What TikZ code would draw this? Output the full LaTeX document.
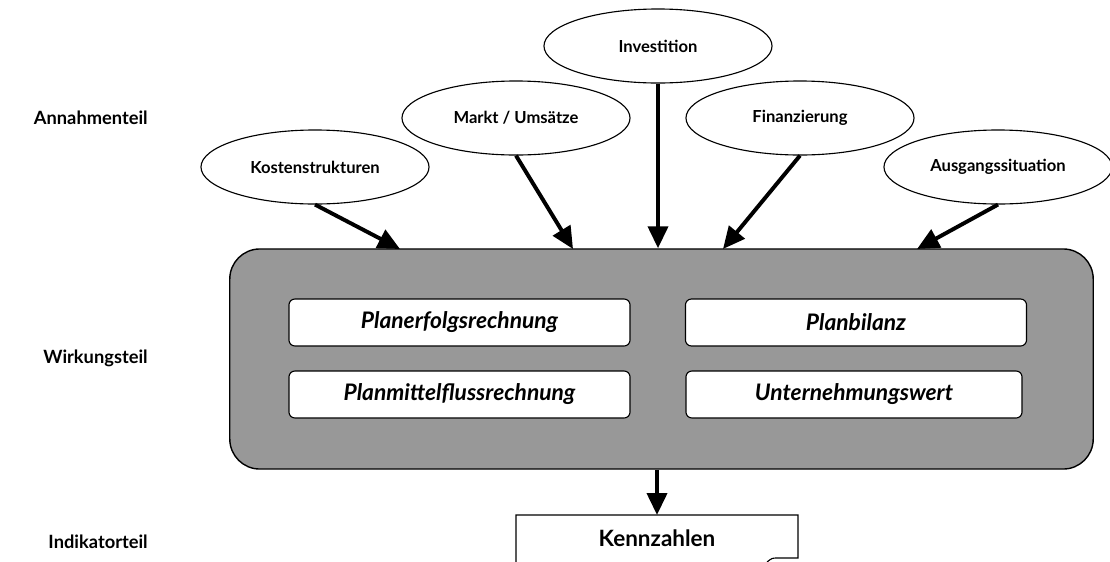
\documentclass[tikz,border=0pt]{standalone}
\usepackage{fontspec}
\setmainfont{Lato}
\usetikzlibrary{shapes.geometric,arrows.meta}
\definecolor{wirkgrau}{RGB}{152,152,152}
\tikzset{
	annahme/.style={draw, ellipse, line width=0.8pt, minimum width=5.7cm, minimum height=1.85cm, inner sep=0pt, font=\bfseries\fontsize{11.8}{14}\selectfont},
	teil/.style={anchor=east, inner sep=0pt, font=\bfseries\fontsize{13}{15}\selectfont},
	rechnung/.style={draw, fill=white, rounded corners=0.15cm, line width=0.8pt, minimum width=8.525cm, minimum height=1.175cm, inner sep=0pt, font=\bfseries\itshape\fontsize{16.2}{19}\selectfont},
	pfeil/.style={line width=2.8pt, -{Triangle[length=5.5mm, width=5mm]}},
}

\begin{document}
\begin{tikzpicture}[x=0.025cm, y=-0.025cm]
			%%%%% START %%%%%
			
			\useasboundingbox (0, 0) rectangle (1110, 561);
			\clip (0, 0) rectangle (1110, 561);
			
			\node[teil] (annahmenteil) at (148, 118) {Annahmenteil};
			\node[teil] (wirkungsteil) at (148, 358) {Wirkungsteil};
			\node[teil] (indikatorteil) at (148, 542) {Indikatorteil};
			
			\node[draw, fill=wirkgrau, line width=1pt, rounded corners=0.75cm, minimum width=21.58cm, minimum height=5.5cm] (wirkung) at (661.5, 359) {};
			
			\node[rechnung] (planerfolg) at (459.5, 322.5) {Planerfolgsrechnung};
			\node[rechnung] (planmittel) at (459.5, 394.5) {Planmittelflussrechnung};
			\node[rechnung] (planbilanz) at (856, 322.5) {Planbilanz};
			\node[rechnung, minimum width=8.4cm] (unternehmung) at (854, 394.5) {Unternehmungswert};
			
			\node[annahme] (kosten) at (315, 167) {Kostenstrukturen};
			\node[annahme] (markt) at (516, 118) {Markt / Ums\"atze};
			\node[annahme] (invest) at (658, 46) {Investition};
			\node[annahme] (finanz) at (800, 118) {Finanzierung};
			\node[annahme] (ausgang) at (998, 167) {Ausgangssituation};
			
			\coordinate (e1) at (400, 249);
			\coordinate (e2) at (573, 249);
			\coordinate (e4) at (723, 249);
			\coordinate (e5) at (917, 249);
			\draw[pfeil] (kosten.south) -- (e1);
			\draw[pfeil] (markt.south) -- (e2);
			\draw[pfeil] (invest.south) -- (invest.south |- wirkung.north);
			\draw[pfeil] (finanz.south) -- (e4);
			\draw[pfeil] (ausgang.south) -- (e5);
			
			% Kennzahlen, unten abgeschnitten
			\node[font=\bfseries\fontsize{16}{19}\selectfont] (kennzahl) at (657, 538) {Kennzahlen};
			\coordinate (kz) at (657, 515);
			\draw[line width=0.8pt] (516, 575) -- (516, 515) -- (798, 515) -- (798, 558) -- (778, 558) .. controls (772, 558) .. (767, 562);
			\draw[pfeil] (wirkung.south -| kz) -- (kz);
			
			%%%%% END %%%%%
\end{tikzpicture}
\end{document}
